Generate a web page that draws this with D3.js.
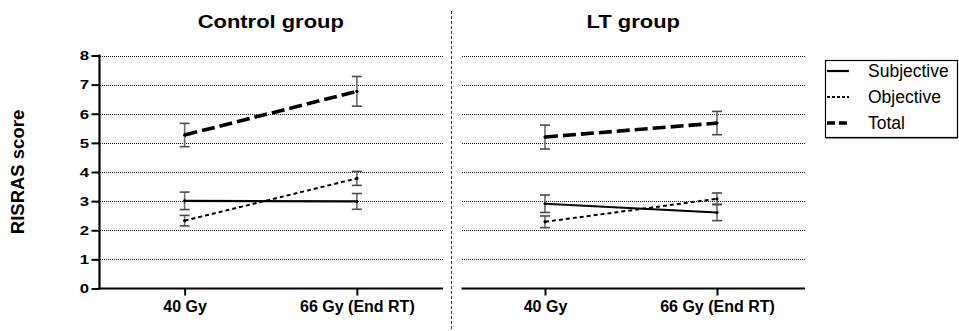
<!DOCTYPE html>
<html>
<head>
<meta charset="utf-8">
<script src="https://cdn.jsdelivr.net/npm/d3@7/dist/d3.min.js"></script>
<style>
  html, body { margin: 0; padding: 0; background: #fff; }
  svg { display: block; font-family: Arial, "Liberation Sans", Helvetica, sans-serif; }
</style>
</head>
<body>
<svg id="chart" width="959" height="331"></svg>
<script>
// Time points on the x axis and the y-axis ticks
const timepoints = ["40 Gy", "66 Gy (End RT)"];
const yTicks = [0, 1, 2, 3, 4, 5, 6, 7, 8];
const panelTitles = ["Control group", "LT group"];
const seriesNames = ["Subjective", "Objective", "Total"];

// RISRAS scores (mean and error) per group
const ctrlSubjMean = [3.01, 2.99];
const ctrlSubjErr  = [0.30, 0.27];
const ctrlObjMean  = [2.33, 3.78];
const ctrlObjErr   = [0.18, 0.24];
const ctrlTotMean  = [5.27, 6.77];
const ctrlTotErr   = [0.40, 0.51];

const ltSubjMean = [2.91, 2.61];
const ltSubjErr  = [0.30, 0.28];
const ltObjMean  = [2.29, 3.08];
const ltObjErr   = [0.20, 0.20];
const ltTotMean  = [5.20, 5.68];
const ltTotErr   = [0.41, 0.40];

// line styles for each series
const seriesStyle = {
  Subjective: { width: 2.2, dash: null },
  Objective:  { width: 2.0, dash: "4,3" },
  Total:      { width: 3.6, dash: "13,5" }
};

const panels = [
  { title: panelTitles[0], x0: 98.5, x1: 443, gridFrom: 100, gridTo: 444, showY: true,
    series: [
      { name: "Subjective", mean: ctrlSubjMean, err: ctrlSubjErr },
      { name: "Objective",  mean: ctrlObjMean,  err: ctrlObjErr },
      { name: "Total",      mean: ctrlTotMean,  err: ctrlTotErr }
    ] },
  { title: panelTitles[1], x0: 459, x1: 803, axisFrom: 461.5, axisTo: 805, gridFrom: 462, gridTo: 805, showY: false,
    series: [
      { name: "Subjective", mean: ltSubjMean, err: ltSubjErr },
      { name: "Objective",  mean: ltObjMean,  err: ltObjErr },
      { name: "Total",      mean: ltTotMean,  err: ltTotErr }
    ] }
];

const svg = d3.select("#chart");
const y = d3.scaleLinear().domain([0, 8]).range([288.5, 55.5]);

// vertical dashed divider between the two panels
svg.append("line")
  .attr("x1", 451.5).attr("x2", 451.5).attr("y1", 11).attr("y2", 331)
  .attr("stroke", "#333").attr("stroke-width", 1).attr("stroke-dasharray", "3,2");

// y-axis title
svg.append("text")
  .attr("transform", "translate(24,172) rotate(-90)")
  .attr("text-anchor", "middle")
  .attr("font-size", 18.5).attr("font-weight", "bold")
  .text("RISRAS score");

panels.forEach(p => {
  const g = svg.append("g");
  const x = d3.scalePoint().domain(timepoints).range([p.x0, p.x1]).padding(0.5);
  const axisFrom = p.axisFrom ?? p.x0;
  const axisTo = p.axisTo ?? p.x1;

  // horizontal dotted gridlines
  g.append("g").selectAll("line").data(yTicks.filter(d => d > 0)).join("line")
    .attr("x1", p.gridFrom).attr("x2", p.gridTo)
    .attr("y1", d => Math.round(y(d)) + 0.5).attr("y2", d => Math.round(y(d)) + 0.5)
    .attr("stroke", "#111").attr("stroke-width", 1).attr("stroke-dasharray", "1,1")
    .attr("shape-rendering", "crispEdges");

  // panel title
  g.append("text")
    .attr("text-anchor", "middle")
    .attr("transform", `translate(${(axisFrom + axisTo) / 2},28.3) scale(1.18,1)`)
    .attr("font-size", 18.6).attr("font-weight", "bold")
    .text(p.title);

  // x axis
  const xAxis = d3.axisBottom(x).tickSize(7).tickPadding(5).tickSizeOuter(0);
  const xg = g.append("g").attr("transform", `translate(0,${y(0)})`).call(xAxis);
  xg.select(".domain").remove();
  xg.append("line").attr("x1", axisFrom).attr("x2", axisTo)
    .attr("stroke", "#000").attr("stroke-width", 2);
  xg.selectAll(".tick line").attr("stroke", "#000").attr("stroke-width", 2);
  xg.selectAll(".tick text")
    .attr("font-family", "Arial, 'Liberation Sans', sans-serif")
    .attr("font-size", 16).attr("font-weight", "bold").attr("fill", "#000")
    .attr("y", 0).attr("dy", 0)
    .attr("transform", "translate(0,23.3)");

  // y axis (left panel only)
  if (p.showY) {
    const yAxis = d3.axisLeft(y).tickValues(yTicks).tickSize(8).tickPadding(0).tickSizeOuter(0);
    const yg = g.append("g").attr("transform", `translate(${p.x0 + 1},0)`).call(yAxis);
    yg.select(".domain").remove();
    yg.append("line").attr("y1", y(0) + 1).attr("y2", y(8) - 1)
      .attr("stroke", "#000").attr("stroke-width", 2.2);
    yg.selectAll(".tick line").attr("stroke", "#000").attr("stroke-width", 2);
    yg.selectAll(".tick text")
      .attr("font-family", "Arial, 'Liberation Sans', sans-serif")
      .attr("font-size", 12).attr("font-weight", "bold").attr("fill", "#000")
      .attr("x", 0).attr("dy", 0)
      .attr("transform", "translate(-10.5,4.3) scale(1.4,1)");
  }

  // error bars
  p.series.forEach(s => {
    const eb = g.append("g");
    timepoints.forEach((t, i) => {
      const cx = x(t);
      const lo = y(s.mean[i] - s.err[i]);
      const hi = y(s.mean[i] + s.err[i]);
      eb.append("line").attr("x1", cx).attr("x2", cx).attr("y1", lo).attr("y2", hi)
        .attr("stroke", "#6a6a6a").attr("stroke-width", 1.6);
      [lo, hi].forEach(v => eb.append("line")
        .attr("x1", cx - 5).attr("x2", cx + 5).attr("y1", v).attr("y2", v)
        .attr("stroke", "#4a4a4a").attr("stroke-width", 1.6));
    });
  });

  // series lines and mean points
  const line = d3.line().x((d, i) => x(timepoints[i])).y(d => y(d));
  p.series.forEach(s => {
    const st = seriesStyle[s.name];
    g.append("path").datum(s.mean)
      .attr("d", line)
      .attr("fill", "none").attr("stroke", "#000")
      .attr("stroke-width", st.width)
      .attr("stroke-dasharray", st.dash);
    g.append("g").selectAll("circle").data(s.mean).join("circle")
      .attr("cx", (d, i) => x(timepoints[i])).attr("cy", d => y(d))
      .attr("r", 1.6).attr("fill", "#000");
  });
});

// legend
const legend = svg.append("g");
legend.append("rect")
  .attr("x", 825.5).attr("y", 60.5).attr("width", 132).attr("height", 77)
  .attr("fill", "#fff").attr("stroke", "#000").attr("stroke-width", 1.2);
legend.append("line")
  .attr("x1", 826).attr("x2", 958).attr("y1", 138.5).attr("y2", 138.5)
  .attr("stroke", "#888").attr("stroke-width", 1);
const legendRowY = d3.scalePoint().domain(seriesNames).range([71, 123]);
seriesNames.forEach(n => {
  const st = seriesStyle[n];
  const ly = legendRowY(n);
  legend.append("line")
    .attr("x1", 827).attr("x2", 849).attr("y1", ly).attr("y2", ly)
    .attr("stroke", "#000").attr("stroke-width", n === "Total" ? 3.4 : st.width)
    .attr("stroke-dasharray", n === "Total" ? "8,4" : (n === "Objective" ? "3,2" : null));
  legend.append("text")
    .attr("x", 868).attr("y", ly + 6.2)
    .attr("font-size", 17.5).attr("fill", "#000")
    .text(n);
});
</script>
</body>
</html>
